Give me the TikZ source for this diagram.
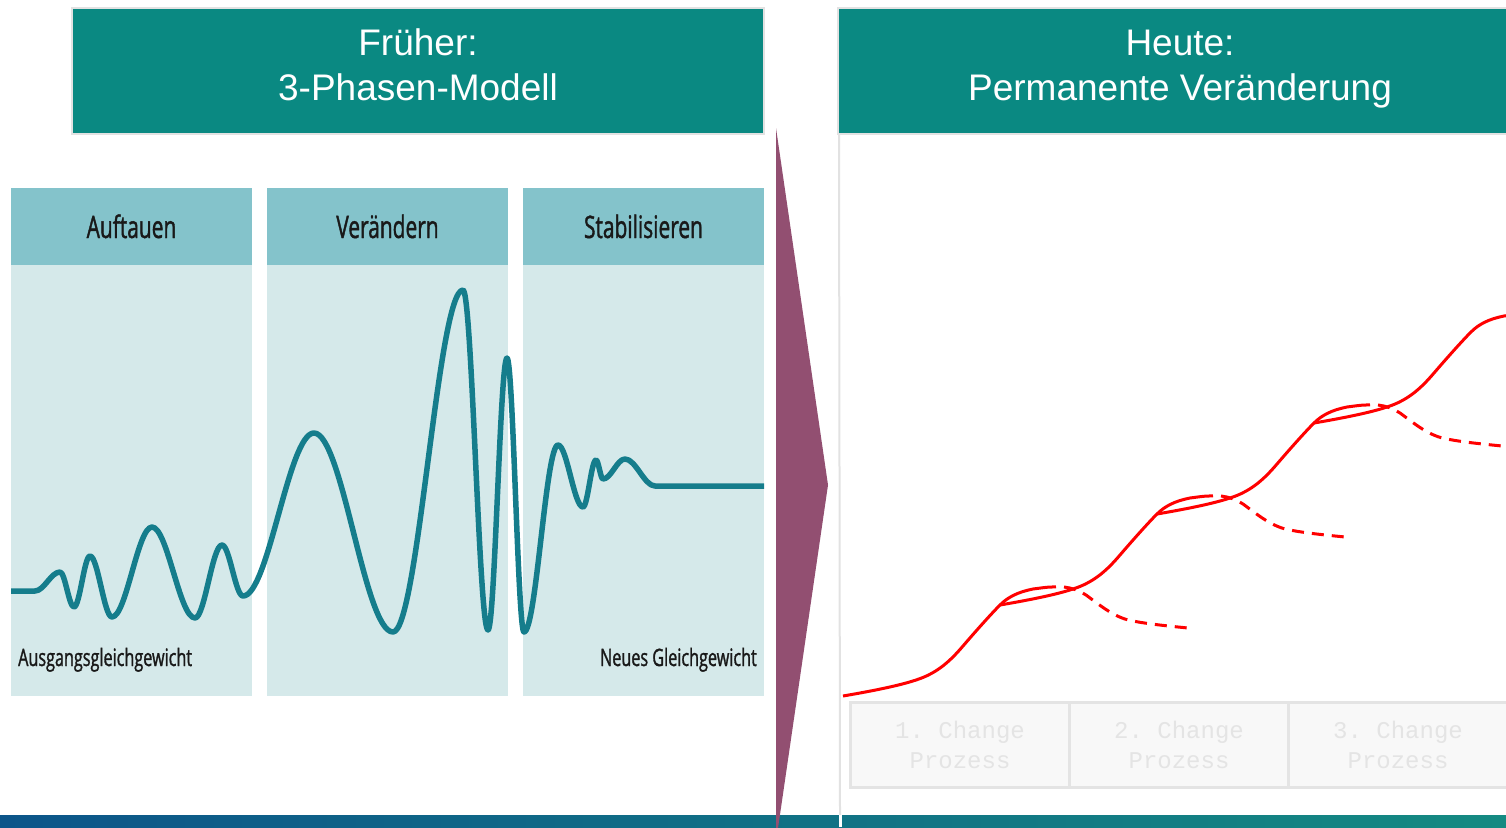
\documentclass[tikz,border=0pt]{standalone}
\usepackage{fontspec}
\setmainfont{Liberation Sans}
\newfontfamily\phasefont[FakeStretch=0.675, FakeBold=1.2]{Open Sans}
\newfontfamily\boxfont{Liberation Mono}

\definecolor{headteal}{HTML}{0A8982}
\definecolor{phasehead}{HTML}{84C3CB}
\definecolor{phasebody}{HTML}{D5E9EA}
\definecolor{wavecol}{HTML}{157D8C}
\definecolor{arrowpurple}{HTML}{924F71}
\definecolor{boxfill}{HTML}{F8F8F8}
\definecolor{boxline}{HTML}{E4E4E4}
\definecolor{boxtext}{HTML}{E4E4E4}
\definecolor{barleft}{HTML}{0C5589}
\definecolor{barright}{HTML}{148A82}
\definecolor{frameline}{HTML}{E2E2E2}

\tikzset{
  header/.style={draw=frameline, line width=2pt, fill=headteal, minimum height=126pt, inner sep=0pt},
  headtext/.style={text=white, font=\fontsize{37}{45}\selectfont, anchor=base, inner sep=0pt},
  phasehd/.style={fill=phasehead, minimum width=241pt, minimum height=77pt, inner sep=0pt},
  phasebd/.style={fill=phasebody, minimum width=241pt, minimum height=431pt, inner sep=0pt},
  phaselabel/.style={text=black!90, font=\phasefont\fontsize{31}{36}\selectfont, anchor=base, inner sep=0pt},
  statelabel/.style={text=black!90, font=\phasefont\fontsize{24}{28}\selectfont, inner sep=0pt},
  changebox/.style={draw=boxline, line width=3pt, fill=boxfill, minimum width=219pt, minimum height=85pt,
    align=center, text=boxtext, font=\boxfont\fontsize{24}{30}\selectfont},
}

\begin{document}
\begin{tikzpicture}[x=1pt, y=-1pt]
      \clip (0,0) rectangle (1506,827);
      % headers
      \node[header, minimum width=692pt] (frueher) at (418,71) {};
      \node[headtext] (frueherA) at (418,55) {Früher:};
      \node[headtext] (frueherB) at (418,100) {3-Phasen-Modell};
      \node[header, minimum width=690pt] (heute) at (1183,71) {};
      \node[headtext] (heuteA) at (1180,55) {Heute:};
      \node[headtext] (heuteB) at (1180,100) {Permanente Veränderung};
      \draw[frameline, line width=2pt] (heute.south west) ++(2,0) -- (840,815);
      % left: three phases
      \foreach \cx/\name/\txt in {131.5/auf/Auftauen, 387.5/ver/Verändern, 643.5/sta/Stabilisieren} {
        \node[phasebd] (\name body) at (\cx,480.5) {};
        \node[phasehd] (\name head) at (\cx,226.5) {};
        \node[phaselabel] (\name label) at (\cx,238) {\txt};
      }
      \node[statelabel, anchor=base west] (ausgang) at (18,666) {Ausgangsgleichgewicht};
      \node[statelabel, anchor=base east] (neues) at (757,666) {Neues Gleichgewicht};
      \draw[wavecol, line width=5.5pt, line join=round] (11,591) -- (35,591)
        \foreach \x/\y [remember=\x as \lx (initially 35), remember=\y as \ly (initially 591)] in
          {60/572, 74/607, 90/556, 112/617, 152/527, 195/618, 222/545, 243/596, 314/433, 393/632,
           463/290, 488/630, 507/358, 524/632, 558/445, 583/507, 596/460, 603/479, 625/459, 655/486}
          { .. controls ({\lx+0.36*(\x-\lx)},\ly) and ({\x-0.36*(\x-\lx)},\y) .. (\x,\y) }
        -- (764,486);
      % bottom bar and arrow
      \shade[left color=barleft, right color=barright] (0,815) rectangle (1506,827);
      \fill[white] (838.5,815) rectangle (841.5,827);
      \fill[arrowpurple] (776,128) -- (828,485) -- (776,842) -- cycle;
      % right: change processes
      \foreach \i/\cx in {1/960, 2/1179, 3/1398}
        \node[changebox] (change\i) at (\cx,744.5) {\i.\ Change\\Prozess};
      \begin{scope}
        \clip (841,140) rectangle (1506,705);
        \foreach \k in {0,...,3} {
          \begin{scope}[shift={(843+157*\k,696-91*\k)}]
            \draw[red, line width=3pt] (0,0) .. controls (35,-6) and (58,-11) .. (73,-16)
              .. controls (95,-23) and (108,-36) .. (120,-50)
              .. controls (132,-64) and (148,-82) .. (157,-91)
              .. controls (165,-99) and (175,-104) .. (190,-107)
              .. controls (198,-108) and (204,-109) .. (209,-109);
            \draw[red, line width=3pt, dash pattern=on 12pt off 8pt, dash phase=8pt] (209,-109)
              .. controls (222,-110) and (232,-108) .. (243,-101)
              .. controls (258,-90) and (272,-78) .. (290,-75)
              .. controls (305,-72) and (325,-70) .. (345,-68);
          \end{scope}
        }
      \end{scope}
\end{tikzpicture}
\end{document}
